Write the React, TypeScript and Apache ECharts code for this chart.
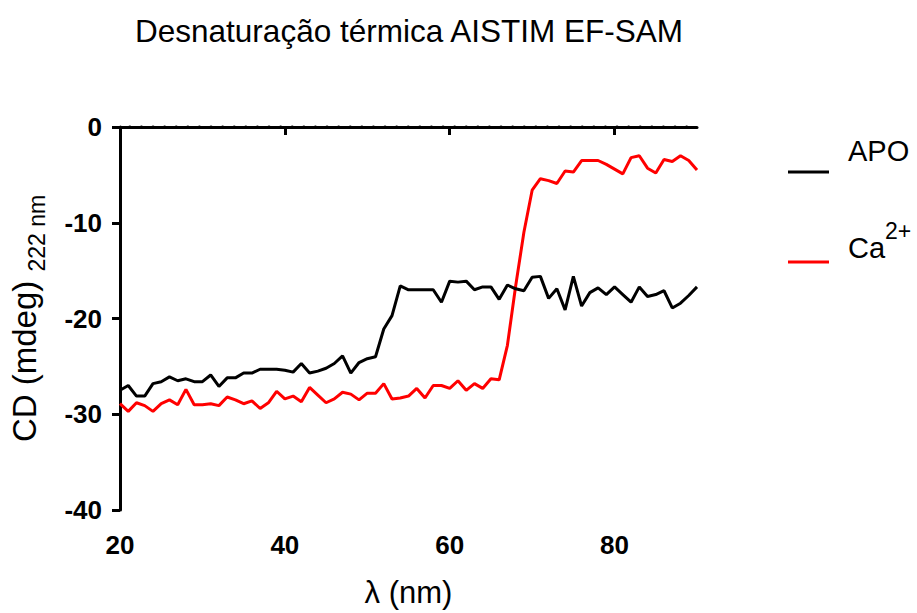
import React, { useEffect, useRef } from "react";
import * as echarts from "echarts";

const temperatures: number[] = [
  20, 21, 22, 23, 24, 25, 26, 27, 28, 29,
  30, 31, 32, 33, 34, 35, 36, 37, 38, 39,
  40, 41, 42, 43, 44, 45, 46, 47, 48, 49,
  50, 51, 52, 53, 54, 55, 56, 57, 58, 59,
  60, 61, 62, 63, 64, 65, 66, 67, 68, 69,
  70, 71, 72, 73, 74, 75, 76, 77, 78, 79,
  80, 81, 82, 83, 84, 85, 86, 87, 88, 89, 90,
];

const apoValues: number[] = [
  -27.5, -27.0, -28.1, -28.1, -26.8, -26.6, -26.1, -26.5, -26.3, -26.6,
  -26.6, -25.9, -27.1, -26.2, -26.2, -25.7, -25.7, -25.3, -25.3, -25.3,
  -25.4, -25.6, -24.7, -25.7, -25.5, -25.2, -24.7, -23.9, -25.7, -24.6,
  -24.2, -24.0, -21.1, -19.7, -16.6, -17.0, -17.0, -17.0, -17.0, -18.3,
  -16.1, -16.2, -16.1, -17.0, -16.7, -16.7, -18.0, -16.5, -16.9, -17.1,
  -15.7, -15.6, -17.9, -16.9, -19.1, -15.6, -18.7, -17.3, -16.8, -17.5,
  -16.7, -17.5, -18.3, -16.7, -17.7, -17.5, -17.1, -18.9, -18.4, -17.6, -16.7,
];

const caValues: number[] = [
  -28.9, -29.7, -28.8, -29.1, -29.7, -28.9, -28.5, -29.0, -27.4, -29.0,
  -29.0, -28.9, -29.1, -28.2, -28.5, -28.9, -28.6, -29.4, -28.8, -27.6,
  -28.4, -28.1, -28.7, -27.2, -28.0, -28.8, -28.4, -27.7, -27.9, -28.5,
  -27.8, -27.8, -26.8, -28.4, -28.3, -28.1, -27.3, -28.3, -27.0, -27.0,
  -27.3, -26.5, -27.5, -26.8, -27.3, -26.3, -26.4, -22.8, -16.6, -11.0,
  -6.6, -5.4, -5.6, -5.9, -4.6, -4.7, -3.5, -3.5, -3.5, -3.9,
  -4.4, -4.9, -3.2, -3.0, -4.3, -4.8, -3.4, -3.6, -3.0, -3.5, -4.5,
];

const zeroLineX: number[] = [20, 90];
const zeroLineY: number[] = [0, 0];
const xTickValues: number[] = [20, 40, 60, 80];
const seriesNames: string[] = ["APO", "Ca2+"];
const titleText = "Desnaturação térmica AISTIM EF-SAM";
const xAxisTitle = "λ (nm)";

const FONT = "'Liberation Sans', Arial, sans-serif";

// legend keys: a 41x3 bar inside an 11px-high box (centred for APO, lowered for Ca2+)
const ICON_CENTRED = "path://M0,0h0.01v0.01h-0.01z M0,4h41v3h-41z M0,10.99h0.01v0.01h-0.01z";
const ICON_LOW = "path://M0,0h0.01v0.01h-0.01z M0,8h41v3h-41z";

export default function App() {
  const ref = useRef<HTMLDivElement>(null);

  useEffect(() => {
    document.body.style.margin = "0";
    if (!ref.current) return;
    const chart = echarts.init(ref.current, undefined, { renderer: "svg" });
    const apoData = temperatures.map((t, i) => [t, apoValues[i]]);
    const caData = temperatures.map((t, i) => [t, caValues[i]]);
    const zeroData = zeroLineX.map((t, i) => [t, zeroLineY[i]]);

    chart.setOption({
      animation: false,
      backgroundColor: "#ffffff",
      title: {
        text: titleText,
        left: 404,
        textAlign: "center",
        top: 10,
        textStyle: {
          fontFamily: FONT,
          fontSize: 31.5,
          fontWeight: "normal",
          color: "#000",
        },
      },
      legend: {
        orient: "vertical",
        left: 783,
        top: 128,
        itemWidth: 41,
        itemHeight: 11,
        itemGap: 8,
        itemStyle: { borderWidth: 0 },
        data: [
          { name: seriesNames[0], icon: ICON_CENTRED },
          { name: seriesNames[1], icon: ICON_LOW },
        ],
        formatter: (name: string) => (name === "Ca2+" ? "{ca|Ca}{sup|2+}" : name),
        textStyle: {
          fontFamily: FONT,
          fontSize: 29,
          lineHeight: 35,
          color: "#000",
          padding: [0, 0, 43, 14],
          rich: {
            ca: {
              fontFamily: FONT,
              fontSize: 29,
              lineHeight: 35,
              color: "#000",
              padding: [14, 0, 0, 0],
              verticalAlign: "top",
            },
            sup: {
              fontFamily: FONT,
              fontSize: 23,
              lineHeight: 28,
              color: "#000",
              verticalAlign: "top",
            },
          },
        },
      },
      grid: {
        left: 119,
        top: 127,
        right: 220,
        bottom: 101,
        containLabel: false,
      },
      xAxis: {
        type: "value",
        min: 20,
        max: 90,
        interval: 20,
        name: xAxisTitle,
        nameLocation: "middle",
        nameGap: 67,
        nameTextStyle: {
          fontFamily: FONT,
          fontSize: 31,
          color: "#000",
        },
        axisLine: { show: true, lineStyle: { color: "#000", width: 3 } },
        axisTick: {
          show: true,
          length: 8,
          customValues: xTickValues,
          lineStyle: { color: "#000", width: 3 },
        },
        axisLabel: {
          margin: 22,
          customValues: xTickValues,
          fontFamily: FONT,
          fontSize: 26,
          fontWeight: "bold",
          color: "#000",
        },
        splitLine: { show: false },
      },
      yAxis: {
        type: "value",
        min: -40,
        max: 0,
        interval: 10,
        name: "{a|CD (mdeg) }{b|222 nm}",
        nameLocation: "middle",
        nameGap: 78,
        nameTextStyle: {
          fontFamily: FONT,
          fontSize: 33,
          color: "#000",
          rich: {
            a: { fontFamily: FONT, fontSize: 33, lineHeight: 34, color: "#000", verticalAlign: "top" },
            b: {
              fontFamily: FONT,
              fontSize: 23,
              lineHeight: 24,
              color: "#000",
              verticalAlign: "top",
              padding: [17, 0, 0, 0],
            },
          },
        },
        axisLine: { show: true, onZero: false, lineStyle: { color: "#000", width: 3 } },
        axisTick: { show: true, length: 8, lineStyle: { color: "#000", width: 3 } },
        axisLabel: {
          margin: 18,
          fontFamily: FONT,
          fontSize: 26,
          fontWeight: "bold",
          color: "#000",
        },
        splitLine: { show: false },
      },
      series: [
        {
          name: "zero",
          type: "line",
          data: zeroData,
          showSymbol: false,
          symbol: "none",
          clip: false,
          silent: true,
          lineStyle: {
            color: "#000",
            width: 3.2,
            type: [0.5, 11.1],
            cap: "round",
            dashOffset: 2.1,
          },
          z: 1,
        },
        {
          name: seriesNames[0],
          type: "line",
          data: apoData,
          showSymbol: false,
          symbol: "none",
          lineStyle: { color: "#000", width: 3 },
          itemStyle: { color: "#000" },
          z: 3,
        },
        {
          name: seriesNames[1],
          type: "line",
          data: caData,
          showSymbol: false,
          symbol: "none",
          lineStyle: { color: "#ff0000", width: 3 },
          itemStyle: { color: "#ff0000" },
          z: 2,
        },
      ],
    });

    return () => chart.dispose();
  }, []);

  return <div ref={ref} style={{ width: 917, height: 613 }} />;
}
